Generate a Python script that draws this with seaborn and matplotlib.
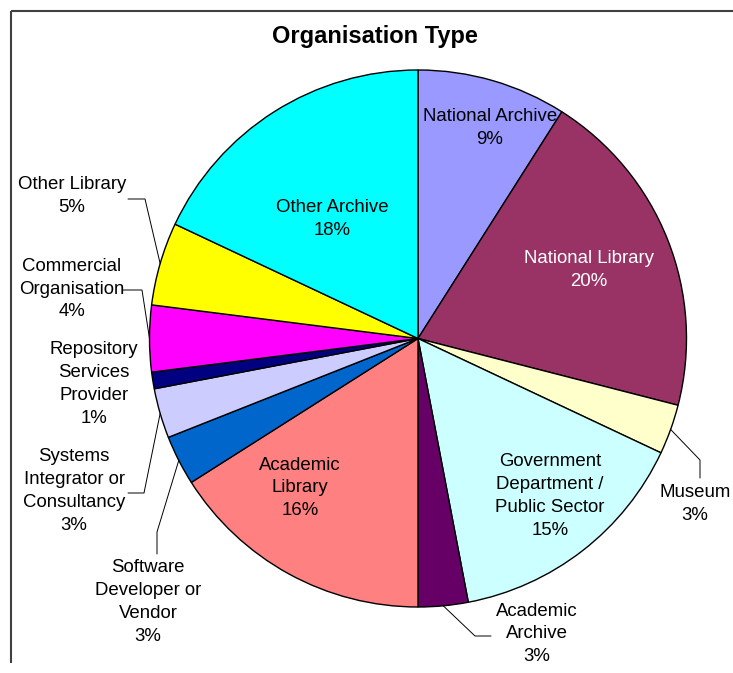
import matplotlib
matplotlib.use("Agg")
import matplotlib.pyplot as plt
import seaborn as sns
import numpy as np

# Organisation types, clockwise from 12 o'clock, and their share of respondents (%)
categories = [
    "National Archive",
    "National Library",
    "Museum",
    "Government\nDepartment /\nPublic Sector",
    "Academic\nArchive",
    "Academic\nLibrary",
    "Software\nDeveloper or\nVendor",
    "Systems\nIntegrator or\nConsultancy",
    "Repository\nServices\nProvider",
    "Commercial\nOrganisation",
    "Other Library",
    "Other Archive",
]
shares = [9, 20, 3, 15, 3, 16, 3, 3, 1, 4, 5, 18]
slice_colors = [
    "#9999FF", "#993366", "#FFFFCC", "#CCFFFF", "#660066", "#FF8080",
    "#0066CC", "#CCCCFF", "#000080", "#FF00FF", "#FFFF00", "#00FFFF",
]

sns.set_theme(style="white")
plt.rcParams["font.family"] = ["Liberation Sans", "DejaVu Sans"]

W, H, DPI = 733, 673, 100
CX, CY, R = 418, 338.5, 268.5  # pie centre / radius in pixels


def px(x, y):
    """Pixel position (from top-left) to data coordinates of the pie axes."""
    return (x - CX) / R, (CY - y) / R


fig = plt.figure(figsize=(W / DPI, H / DPI), dpi=DPI)
fig.patch.set_facecolor("white")
ax = fig.add_axes([0, 0, 1, 1])

palette = sns.color_palette(slice_colors)
wedges, _ = ax.pie(
    shares,
    colors=palette,
    startangle=90,
    counterclock=False,
    radius=1.0,
    center=(0, 0),
    wedgeprops=dict(edgecolor="black", linewidth=1.0),
)

ax.set_xlim(-CX / R, (W - CX) / R)
ax.set_ylim(-(H - CY) / R, CY / R)
ax.set_aspect("auto")
ax.axis("off")

# label placement: text centre (px), text colour, leader elbow points (px) or None
label_layout = {
    "National Archive": ((490, 128), "black", None),
    "National Library": ((589, 270), "white", None),
    "Museum": ((695, 504), "black", [(700, 478), (700, 460)]),
    "Government\nDepartment /\nPublic Sector": ((550, 496), "black", None),
    "Academic\nArchive": ((537, 634), "black", [(491, 636), (475, 636)]),
    "Academic\nLibrary": ((300, 488), "black", None),
    "Software\nDeveloper or\nVendor": ((148, 602), "black", [(157, 554), (157, 532)]),
    "Systems\nIntegrator or\nConsultancy": ((74, 491), "black", [(128, 493), (144, 493)]),
    "Repository\nServices\nProvider": ((94, 384), "black", None),
    "Commercial\nOrganisation": ((72, 289), "black", [(123, 290), (142, 290)]),
    "Other Library": ((72, 196), "black", [(128, 199), (145, 199)]),
    "Other Archive": ((332, 219), "black", None),
}

for wedge, name, val in zip(wedges, categories, shares):
    (tx, ty), tcol, elbow = label_layout[name]
    x, y = px(tx, ty)
    ax.text(x, y, f"{name}\n{val}%", ha="center", va="center", fontsize=13.4,
            color=tcol, linespacing=1.45, clip_on=False)
    if elbow:
        mid = np.deg2rad((wedge.theta1 + wedge.theta2) / 2)
        pts = [px(*p) for p in elbow] + [(np.cos(mid), np.sin(mid))]
        xs, ys = zip(*pts)
        ax.plot(xs, ys, color="black", linewidth=0.7, clip_on=False)

# title
tx, ty = px(375, 37)
ax.text(tx, ty, "Organisation Type", ha="center", va="center",
        fontsize=17, fontweight="bold", color="black")

# chart-area border (left and top edges)
for (x0, y0), (x1, y1) in [((11, 11), (11, 663)), ((11, 11), (733, 11))]:
    a, b = px(x0, y0), px(x1, y1)
    ax.plot([a[0], b[0]], [a[1], b[1]], color="#404040", linewidth=1.5,
            clip_on=False, solid_capstyle="butt")

fig.savefig("out.png", dpi=DPI, facecolor="white")
